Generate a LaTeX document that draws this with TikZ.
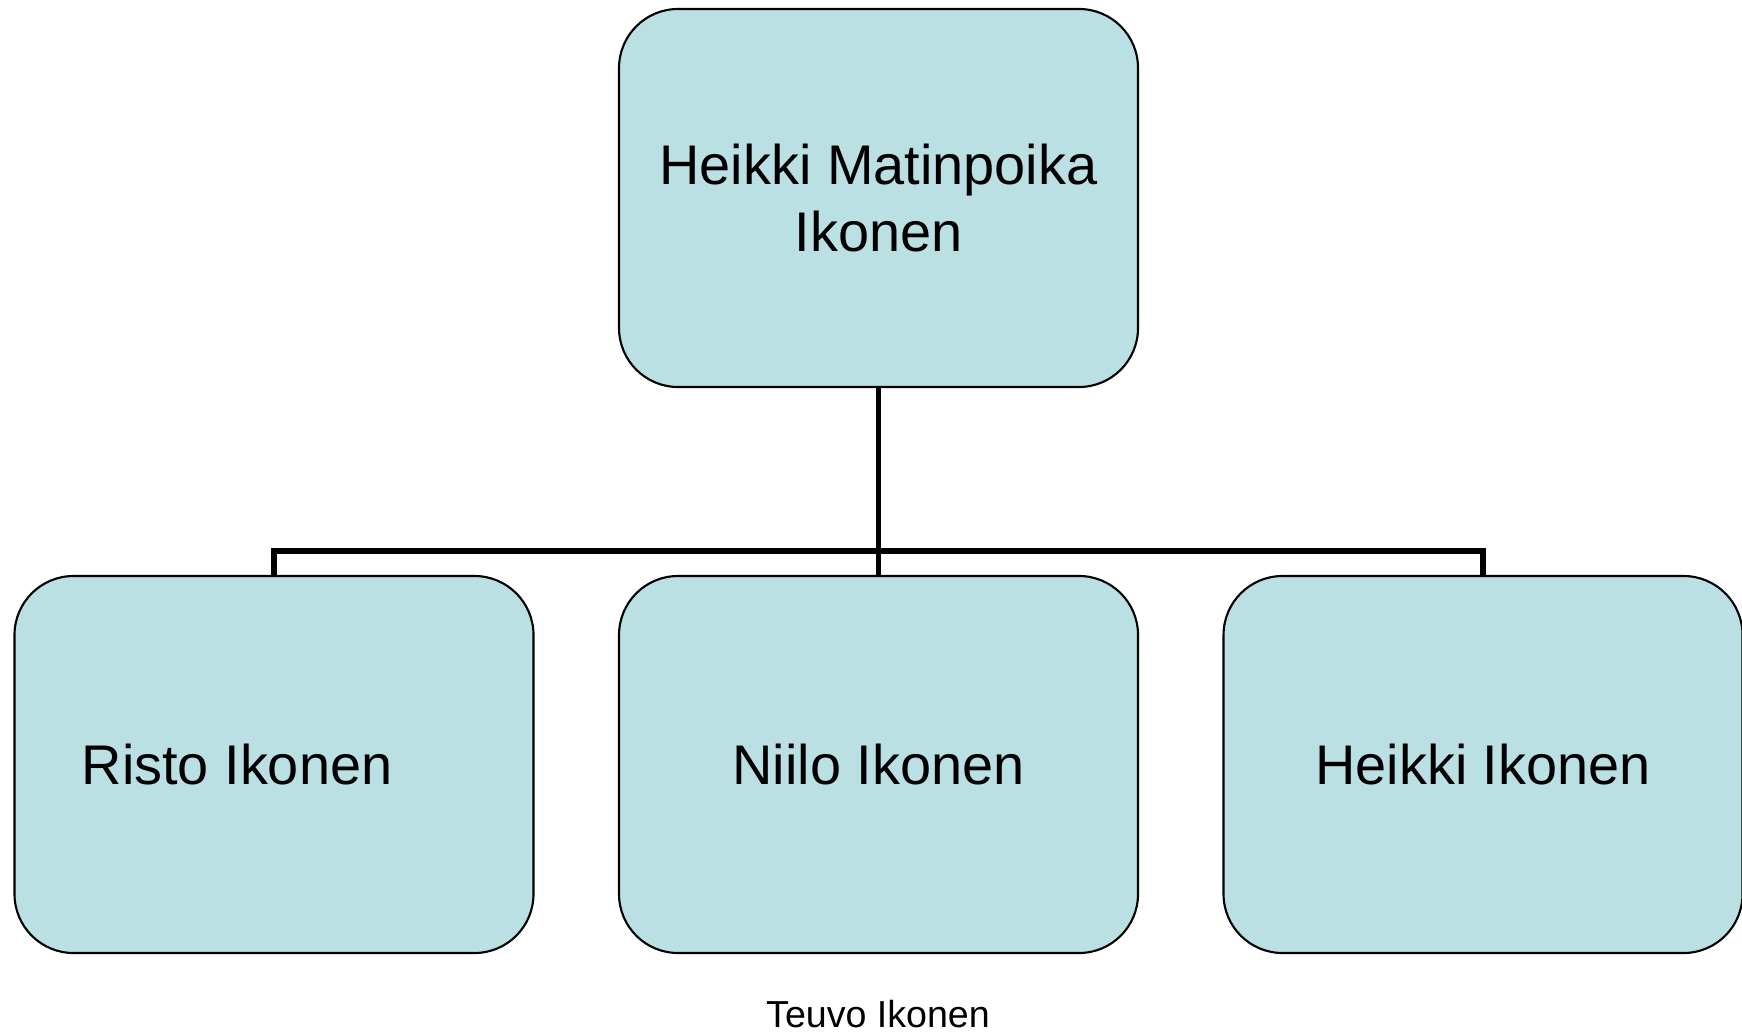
\documentclass[tikz,border=0pt]{standalone}
\usepackage{fontspec}
\setmainfont{Liberation Sans}
\usetikzlibrary{positioning, calc}
\definecolor{boxfill}{RGB}{187,224,227}

\begin{document}
\begin{tikzpicture}[node distance=1.89cm and 0.855cm,
		person/.style={rectangle, rounded corners=0.59cm, draw=black, line width=0.6pt, fill=boxfill, minimum width=5.19cm, minimum height=3.77cm, inner sep=0pt, outer sep=0pt, font=\fontsize{15.9}{18.8}\selectfont},
		link/.style={line width=1.6pt, line join=miter}]
		\useasboundingbox (0,0) rectangle (17.42,-10.31);
		\node[person, align=center, minimum height=3.78cm] (top) at (8.785,-1.98) {Heikki Matinpoika\\Ikonen};
		\node[person] (niilo) [below=of top] {Niilo Ikonen};
		\node[person] (risto) [left=of niilo] {Risto Ikonen\hspace*{0.74cm}};
		\node[person] (heikki) [right=of niilo] {Heikki Ikonen};
		\coordinate (J) at ([yshift=-1.64cm]top.south);
		\draw[link] (top.south) -- (J) -- (niilo.north);
		\draw[link] (J) -| (risto.north); \draw[link] (J) -| (heikki.north);
		\node[anchor=base, font=\fontsize{10.7}{12}\selectfont] (author) at (8.78,-10.27) {Teuvo Ikonen};
	\end{tikzpicture}
\end{document}
